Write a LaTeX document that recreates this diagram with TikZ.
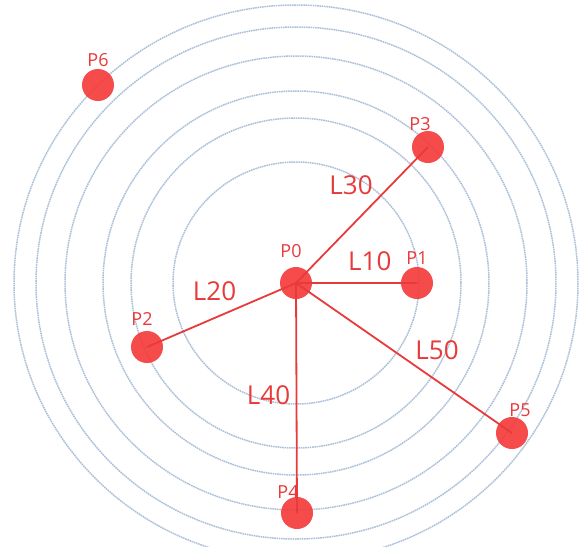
\documentclass[tikz,border=0pt]{standalone}
\usepackage{fontspec}
\setmainfont{Open Sans}
\definecolor{dotred}{RGB}{244,60,60}
\definecolor{linered}{RGB}{232,58,58}
\definecolor{ringblue}{RGB}{172,192,216}
\begin{document}
\begin{tikzpicture}[x=1pt,y=-1pt,
    dot/.style={circle,fill=dotred,fill opacity=0.92,text opacity=1,minimum size=32pt,inner sep=0pt},
    plabel/.style={text=linered,font=\fontsize{18}{20}\selectfont,inner sep=2pt},
    llabel/.style={text=linered,font=\fontsize{26}{28}\selectfont,inner sep=0pt},
    ring/.style={draw=ringblue,line width=1.5pt,dash pattern=on 1.6pt off 0.7pt},
    link/.style={draw=linered,line width=1.8pt}]
          \useasboundingbox (0,0) rectangle (582,547);

          % rings
          \coordinate (c) at (296,283);
          \foreach \rx/\ry in {123/121,165/165,193/192,231/227,260/256,282/278}
            \draw[ring] (c) ellipse [x radius=\rx, y radius=\ry];

          \node[dot,label={[plabel,xshift=-5pt,yshift=7pt]above:P0}] (p0) at (296,283) {};
          \node[dot,label={[plabel]above:P1}] (p1) at (417,283) {};
          \node[dot,label={[plabel,xshift=-5pt,yshift=3pt]above:P2}] (p2) at (147,347) {};
          \node[dot,label={[plabel,xshift=-8pt,yshift=-2pt]above:P3}] (p3) at (428,147) {};
          \node[dot,label={[plabel,xshift=-9pt,yshift=-4pt]above:P4}] (p4) at (297,513) {};
          \node[dot,label={[plabel,xshift=8pt,yshift=-2pt]above:P5}] (p5) at (512,433) {};
          \node[dot,label={[plabel]above:P6}] (p6) at (98,85) {};

          \draw[link] (p0.center) to node[llabel,pos=0.61,yshift=22pt]{L10} (p1.center);
          \draw[link] (p0.center) to node[llabel,pos=0.5,xshift=-7pt,yshift=24pt]{L20} (p2.center);
          \draw[link] (p0.center) to node[llabel,pos=0.5,xshift=-11pt,yshift=30pt]{L30} (p3.center);
          \draw[link] (p0.center) to node[llabel,pos=0.5,xshift=-28pt,yshift=3pt]{L40} (p4.center);
          \draw[link] (p0.center) to node[llabel,pos=0.5,xshift=33pt,yshift=8pt]{L50} (p5.center);
        \end{tikzpicture}
\end{document}
